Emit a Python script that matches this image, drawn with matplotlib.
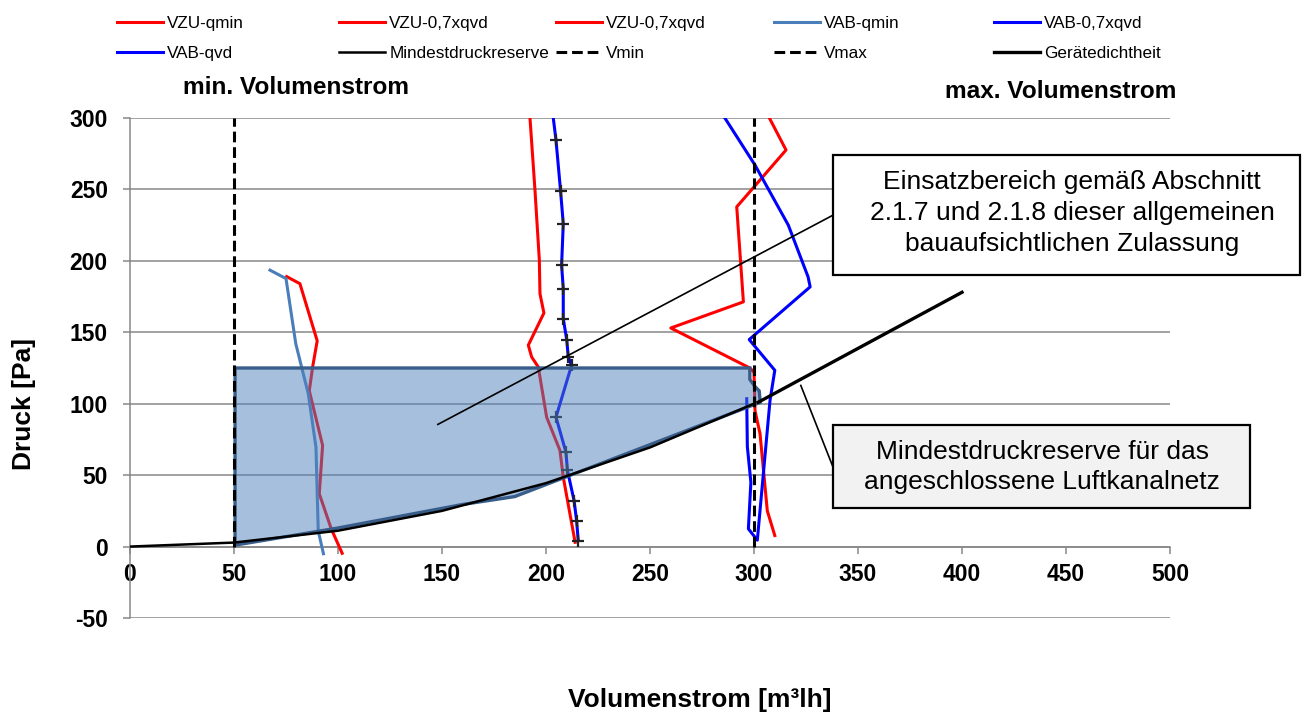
import numpy as np
import matplotlib.pyplot as plt
from matplotlib.patches import Polygon, Rectangle

plt.rcParams['font.family'] = ['Liberation Sans', 'DejaVu Sans']
plt.rcParams['axes.unicode_minus'] = False

# --- data ---
vzu_qmin_x = [75.3, 81.7, 90.0, 87.8, 86.2, 92.6, 91.0, 96.5, 97.8, 102.0]
vzu_qmin_y = [189, 184, 144, 125.7, 109, 70.8, 37, 13.5, 9, -4.7]

vab_qmin_x = [67.3, 75.0, 79.7, 85.7, 89.4, 90.5, 93.0]
vab_qmin_y = [193.5, 187.6, 142, 107, 69.6, 11, -5]

vzu_07_x = [192.3, 194.7, 196.8, 197.1, 199.0, 191.5, 193.1, 196.3, 200.3, 206.7, 208.3, 214.0]
vzu_07_y = [300, 249.5, 200.5, 177, 163.5, 141, 132.7, 125.7, 90.6, 67.3, 48.6, 3]

vab_07_x = [203.5, 204.8, 207.0, 208.3, 207.5, 208.3, 208.3, 210.0, 210.7, 212.3,
            204.8, 209.6, 210.3, 213.5, 214.7, 215.5]
vab_07_y = [300, 284.6, 249, 226, 197, 180.6, 159.6, 144.4, 132.7, 126.9,
            90.6, 66, 53.3, 32.2, 18.2, 4.2]

vzu_07b_x = [307.4, 315.4, 291.7, 294.9, 260.0, 298.0, 300.0, 300.5, 302.9, 306.4, 310.0]
vzu_07b_y = [300, 277.6, 237.8, 171.3, 153, 125, 122, 95, 79, 25, 7.7]

vab_qvd_x = [286.0, 300.5, 316.5, 326.0, 327.0, 297.7, 310.0, 307.7, 301.6, 297.3, 298.5,
             296.8, 296.5]
vab_qvd_y = [300, 267, 225, 188.8, 181.8, 144.9, 123.4, 102.3, 4.5, 12.4, 45,
             70, 103.5]

mdr_x = [0, 50, 100, 150, 200, 250, 300]
mdr_y = [0, 2.8, 11.1, 25, 44.4, 69.4, 100]

geraet_x = [302, 400]
geraet_y = [101, 178]

vmin_x = [50, 50]
vmin_y = [0, 300]
vmax_x = [300, 300]
vmax_y = [0, 300]

# Einsatzbereich polygon
area_x = [50.5, 298, 298, 300.5, 302.5, 303, 185, 160, 100, 50.5]
area_y = [125, 125, 117, 112, 109, 101, 35, 29.5, 13, 1]

xticks = np.arange(0, 501, 50)
yticks = np.arange(-50, 301, 50)

# --- figure ---
W, H = 1305, 715
fig = plt.figure(figsize=(W / 100, H / 100), dpi=100)
ax = fig.add_axes([130 / W, 97 / H, 1040 / W, 500 / H])
ax.set_xlim(0, 500)
ax.set_ylim(-50, 300)

grid_c = '#878787'
for yv in yticks:
    ax.axhline(yv, color=grid_c, lw=1.1, zorder=1)

ax.spines['top'].set_visible(False)
ax.spines['right'].set_visible(False)
ax.spines['left'].set_color(grid_c)
ax.spines['left'].set_linewidth(1.1)
ax.spines['bottom'].set_position(('data', 0))
ax.spines['bottom'].set_color(grid_c)
ax.spines['bottom'].set_linewidth(1.1)
ax.set_xticks(xticks)
ax.set_yticks(yticks)
ax.tick_params(axis='both', direction='out', length=5, width=1.1, color=grid_c,
               labelsize=16.5)
ax.tick_params(axis='y', pad=11)
ax.tick_params(axis='x', pad=6.5)
for lab in ax.get_xticklabels() + ax.get_yticklabels():
    lab.set_fontweight('bold')

lw = 2.2
h1, = ax.plot(vzu_qmin_x, vzu_qmin_y, color='#FF0000', lw=lw, zorder=3)
h2, = ax.plot(vzu_07_x, vzu_07_y, color='#FF0000', lw=lw, zorder=3)
h3, = ax.plot(vzu_07b_x, vzu_07b_y, color='#FF0000', lw=lw, zorder=3)
h4, = ax.plot(vab_qmin_x, vab_qmin_y, color='#4A7EBB', lw=lw, zorder=3)
h5, = ax.plot(vab_07_x, vab_07_y, color='#0000FF', lw=lw, zorder=3)
ax.plot(vab_07_x[1:], vab_07_y[1:], ls='none', marker='+', ms=8, mew=1.6,
        color='#222222', zorder=3)
h6, = ax.plot(vab_qvd_x, vab_qvd_y, color='#0000FF', lw=lw, zorder=3)

area = Polygon(np.column_stack([area_x, area_y]), closed=True,
               facecolor=(79 / 255, 129 / 255, 189 / 255, 0.5),
               edgecolor='#385D8A', lw=2.4, zorder=4)
ax.add_patch(area)

h7, = ax.plot(mdr_x, mdr_y, color='black', lw=1.8, zorder=5)
h10, = ax.plot(geraet_x, geraet_y, color='black', lw=2.4, zorder=5)
h8, = ax.plot(vmin_x, vmin_y, color='black', lw=2.2, dashes=(3.5, 1.6), zorder=6)
h9, = ax.plot(vmax_x, vmax_y, color='black', lw=2.2, dashes=(3.5, 1.6), zorder=6)

# leader lines
ax.plot([148, 338], [85.5, 232], color='black', lw=1.2, zorder=6, clip_on=False)
ax.plot([338, 322.5], [55.6, 112.8], color='black', lw=1.2, zorder=6, clip_on=False)

# annotation boxes (figure pixel coords)
def fbox(x0, y0, x1, y1, fc):
    r = Rectangle((x0 / W, 1 - y1 / H), (x1 - x0) / W, (y1 - y0) / H,
                  transform=fig.transFigure, facecolor=fc, edgecolor='black',
                  lw=1.6, zorder=10)
    fig.add_artist(r)

fbox(833, 155, 1300, 275, 'white')
fig.text(1072 / W, 1 - 213 / H,
         'Einsatzbereich gemäß Abschnitt\n2.1.7 und 2.1.8 dieser allgemeinen\nbauaufsichtlichen Zulassung',
         ha='center', va='center', fontsize=19, linespacing=1.35, zorder=11)
fbox(833, 425, 1250, 508, '#F2F2F2')
fig.text(1042 / W, 1 - 467 / H,
         'Mindestdruckreserve für das\nangeschlossene Luftkanalnetz',
         ha='center', va='center', fontsize=19, linespacing=1.35, zorder=11)

# headings and axis labels
fig.text(183 / W, 1 - 87 / H, 'min. Volumenstrom', ha='left', va='center',
         fontsize=17.6, fontweight='bold')
fig.text(945 / W, 1 - 91 / H, 'max. Volumenstrom', ha='left', va='center',
         fontsize=17.6, fontweight='bold')
fig.text(24 / W, 1 - 404 / H, 'Druck [Pa]', rotation=90, ha='center', va='center',
         fontsize=19, fontweight='bold')
fig.text(700 / W, 1 - 700 / H, 'Volumenstrom [m³lh]', ha='center', va='center',
         fontsize=19, fontweight='bold')

# legend, one per column
cols = [
    (117, [h1, h6], ['VZU-qmin', 'VAB-qvd']),
    (339, [h2, h7], ['VZU-0,7xqvd', 'Mindestdruckreserve']),
    (556, [h3, h8], ['VZU-0,7xqvd', 'Vmin']),
    (774, [h4, h9], ['VAB-qmin', 'Vmax']),
    (994, [h5, h10], ['VAB-0,7xqvd', 'Gerätedichtheit']),
]
for xpx, hs, ls in cols:
    fig.legend(hs, ls, loc='upper left', bbox_to_anchor=(xpx / W, 1 - 16 / H),
               frameon=False, borderpad=0, borderaxespad=0, fontsize=12.3,
               handlelength=2.7, handletextpad=0.25, labelspacing=0.85)

fig.savefig('out.png', dpi=100)
